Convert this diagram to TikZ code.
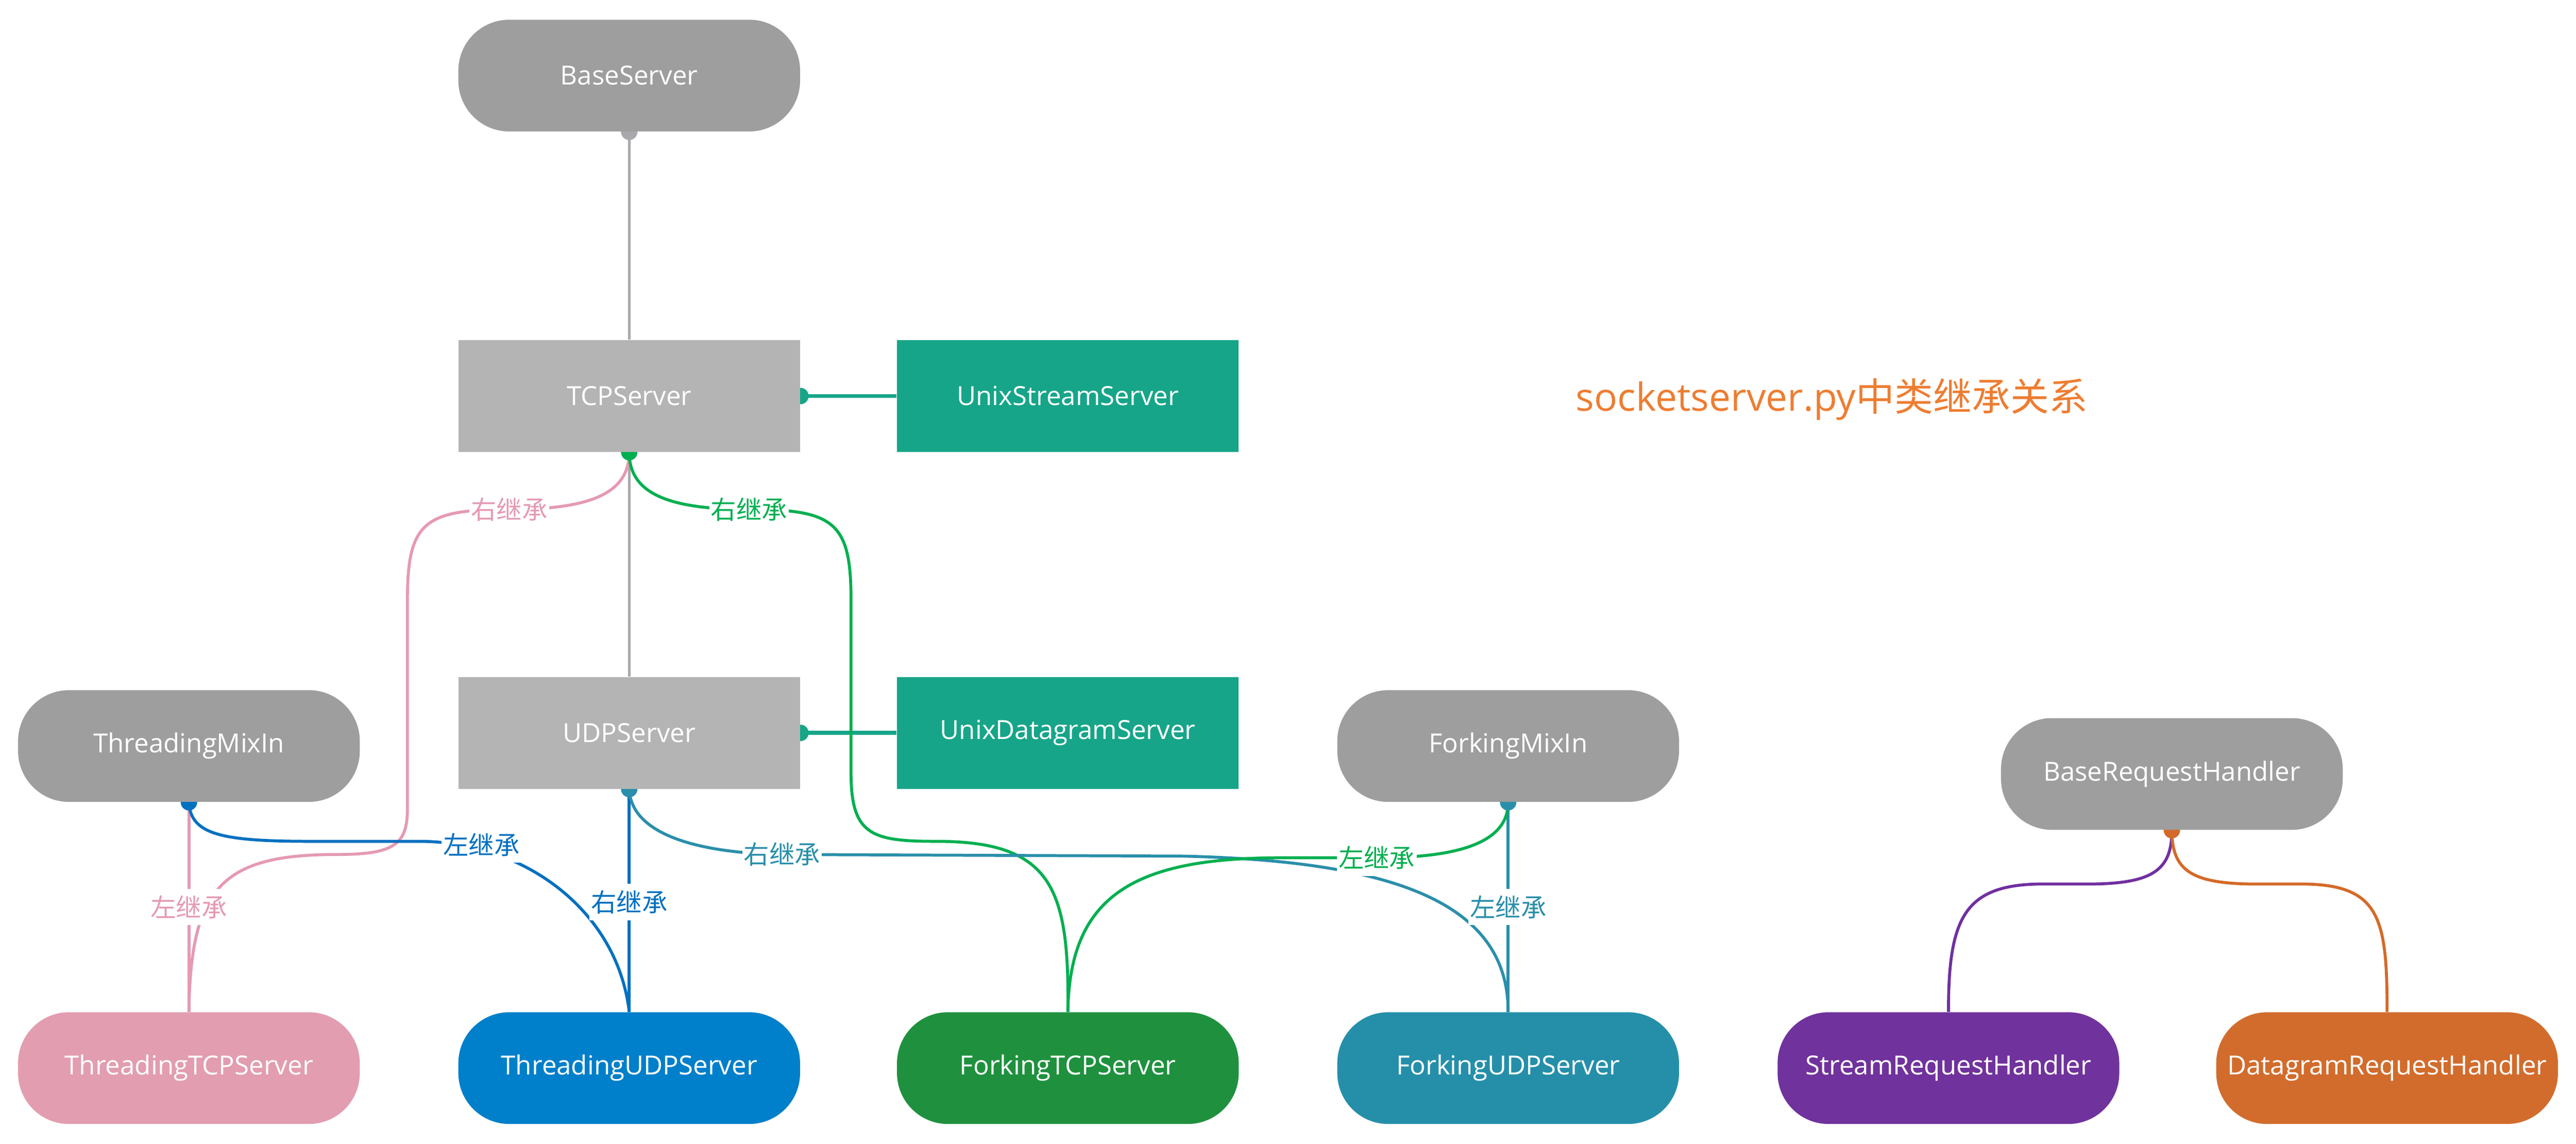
\documentclass[tikz,border=0pt]{standalone}
\usepackage{fontspec}
\setmainfont{Open Sans}
\newfontfamily\cjk{Noto Sans CJK SC}
\pgfdeclarelayer{back}
\pgfdeclarelayer{lines}
\pgfdeclarelayer{labels}
\pgfsetlayers{back,lines,labels,main}
\definecolor{greyR}{HTML}{9D9E9D}
\definecolor{greyS}{HTML}{B3B4B3}
\definecolor{greyL}{HTML}{A9A9AD}
\definecolor{tealN}{HTML}{17A589}
\definecolor{pinkN}{HTML}{E29DB0}
\definecolor{pinkL}{HTML}{E59AB2}
\definecolor{blueN}{HTML}{007FCA}
\definecolor{blueL}{HTML}{0070C0}
\definecolor{greenN}{HTML}{1F913E}
\definecolor{greenL}{HTML}{00AF50}
\definecolor{tbN}{HTML}{258FAA}
\definecolor{tbL}{HTML}{2A8FAA}
\definecolor{purpN}{HTML}{70329C}
\definecolor{purpL}{HTML}{7030A0}
\definecolor{orgN}{HTML}{D26C2C}
\definecolor{orgL}{HTML}{D46A28}
\definecolor{titleC}{HTML}{EE7D31}
\begin{document}
\begin{tikzpicture}[x=1pt,y=-1pt,
  box/.style={minimum width=208pt,minimum height=68pt,inner sep=0pt,text=white,
    font=\fontsize{16}{19}\selectfont},
  roundbox/.style={box,rounded corners=31pt},
  lbl/.style={fill=white,inner xsep=1pt,inner ysep=4pt,font=\cjk\fontsize{15.5}{18}\selectfont},
  conn/.style={line width=1.8pt},
  pdot/.style={radius=5pt}]
\begin{pgfonlayer}{back}
\fill[white] (0,0) rectangle (1568,696);
\end{pgfonlayer}
\useasboundingbox (0,0) rectangle (1568,696);

% nodes
\node[roundbox,fill=greyR] (bs) at (383,46) {BaseServer};
\node[box,fill=greyS] (tcp) at (383,241) {TCPServer};
\node[box,fill=tealN] (uss) at (650,241) {UnixStreamServer};
\node[box,fill=greyS] (udp) at (383,446) {UDPServer};
\node[box,fill=tealN] (uds) at (650,446) {UnixDatagramServer};
\node[roundbox,fill=greyR] (tmi) at (115,454) {ThreadingMixIn};
\node[roundbox,fill=greyR] (fmi) at (918,454) {ForkingMixIn};
\node[roundbox,fill=greyR] (brh) at (1322,471) {BaseRequestHandler};
\node[roundbox,fill=pinkN] (tts) at (115,650) {ThreadingTCPServer};
\node[roundbox,fill=blueN] (tus) at (383,650) {ThreadingUDPServer};
\node[roundbox,fill=greenN] (fts) at (650,650) {ForkingTCPServer};
\node[roundbox,fill=tbN] (fus) at (918,650) {ForkingUDPServer};
\node[roundbox,fill=purpN] (srh) at (1186,650) {StreamRequestHandler};
\node[roundbox,fill=orgN] (drh) at (1453,650) {DatagramRequestHandler};
\node[text=titleC,font=\fontsize{23.5}{28}\selectfont,inner sep=0pt] (title) at (1115,243)
  {socketserver.py{\cjk 中类继承关系}};

% labels
\begin{pgfonlayer}{labels}
\node[lbl,text=pinkL] (lp1) at (310,310) {右继承};
\node[lbl,text=greenL] (lg1) at (456,310) {右继承};
\node[lbl,text=pinkL] (lp2) at (115,552) {左继承};
\node[lbl,text=blueL] (lb1) at (293,514) {左继承};
\node[lbl,text=blueL] (lb2) at (383,549) {右继承};
\node[lbl,text=tbL] (lt1) at (476,520) {右继承};
\node[lbl,text=greenL] (lg2) at (838,522) {左继承};
\node[lbl,text=tbL] (lt2) at (918,552) {左继承};
\end{pgfonlayer}

\begin{pgfonlayer}{lines}
% straight grey
\draw[greyL,line width=1.5pt] (bs.south) -- (tcp.north);
\draw[greyL,line width=1.5pt] (tcp.south) -- (udp.north);
% teal
\draw[tealN,line width=2.4pt] (uss.west) -- (tcp.east);
\draw[tealN,line width=2.4pt] (uds.west) -- (udp.east);
% pink
\draw[pinkL,conn] (tmi.south) -- (lp2.center) -- (tts.north);
\draw[pinkL,conn] (tcp.south) .. controls (383,300) and (360,310) .. (lp1.center)
  .. controls (258,310) and (248,318) .. (248,365) -- (248,492)
  .. controls (248,514) and (240,520) .. (205,520)
  .. controls (135,520) and (116,540) .. (tts.north);
% blue
\draw[blueL,conn] (udp.south) -- (lb2.center) -- (tus.north);
\draw[blueL,conn] (tmi.south) .. controls (116,508) and (135,512) .. (190,512) -- (255,512)
  .. controls (320,512) and (376,555) .. (tus.north);
% green
\draw[greenL,conn] (tcp.south) .. controls (383,300) and (406,310) .. (lg1.center)
  .. controls (508,310) and (518,318) .. (518,365) -- (518,470)
  .. controls (518,508) and (530,512) .. (570,512)
  .. controls (640,512) and (651,540) .. (fts.north);
% teal-blue
\draw[tbL,conn] (udp.south) .. controls (384,506) and (420,519) .. (lt1.center) -- (720,521)
  .. controls (850,524) and (918,550) .. (fus.north);
\draw[tbL,conn] (fmi.south) -- (lt2.center) -- (fus.north);
% green from ForkingMixIn
\draw[greenL,conn] (fmi.south) .. controls (918,512) and (890,522) .. (lg2.center) -- (780,522)
  .. controls (690,522) and (651,545) .. (fts.north);
% request handlers
\draw[purpL,conn] (brh.south) .. controls (1322,530) and (1310,538) .. (1270,538) -- (1240,538)
  .. controls (1195,539) and (1186,560) .. (srh.north);
\draw[orgL,conn] (brh.south) .. controls (1322,530) and (1334,538) .. (1374,538) -- (1404,538)
  .. controls (1449,539) and (1453,560) .. (drh.north);
% dots
\fill[greyL] (bs.south) circle[pdot];
\fill[tealN] (tcp.east) circle[pdot];
\fill[greenL] (tcp.south) circle[pdot];
\fill[tealN] (udp.east) circle[pdot];
\fill[tbL] (udp.south) circle[pdot];
\fill[blueL] (tmi.south) circle[pdot];
\fill[tbL] (fmi.south) circle[pdot];
\fill[orgL] (brh.south) circle[pdot];
\end{pgfonlayer}
\end{tikzpicture}
\end{document}
